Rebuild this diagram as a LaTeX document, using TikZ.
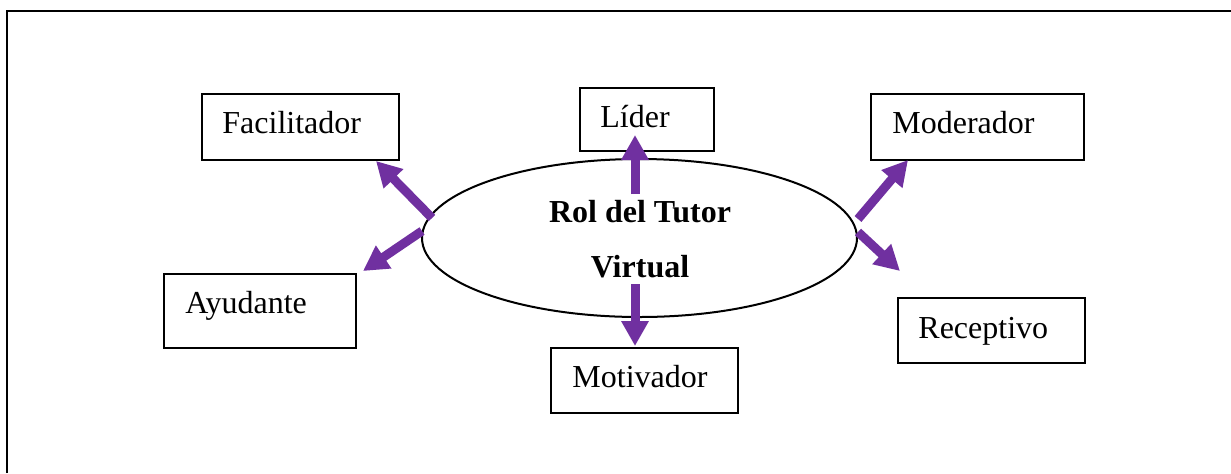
\documentclass[tikz,border=0pt]{standalone}
\usepackage{fontspec}
\setmainfont{Liberation Serif}
\usetikzlibrary{arrows.meta}
\definecolor{arrpurple}{HTML}{7030A0}
\begin{document}
\begin{tikzpicture}[x=0.5pt,y=-0.5pt,
  box/.style={draw=black, line width=1pt, fill=white, anchor=north west, inner sep=0pt},
  lbl/.style={anchor=base west, inner sep=0pt, font=\fontsize{16}{19}\selectfont},
  title/.style={anchor=base, inner sep=0pt, font=\fontsize{16}{19}\selectfont\bfseries},
  arr/.style={draw=arrpurple, line width=4.5pt, -{Triangle[length=12.5pt,width=13pt]}}]
\useasboundingbox (0,0) rectangle (1231,473);
\fill[white] (0,0) rectangle (1231,473);
% outer frame
\draw[line width=1pt] (7,473) -- (7,11) -- (1231,11);
% boxes
\node[box, minimum width=98.5pt, minimum height=33pt] (fac) at (201,93) {};
\node[lbl] (facT) at (222,133) {Facilitador};
\node[box, minimum width=67pt, minimum height=31.5pt] (lid) at (579,87) {};
\node[lbl] (lidT) at (600,127) {Líder};
\node[box, minimum width=106.5pt, minimum height=33pt] (mod) at (870,93) {};
\node[lbl] (modT) at (892,133) {Moderador};
\node[box, minimum width=96pt, minimum height=37pt] (ayu) at (163,273) {};
\node[lbl] (ayuT) at (185,313) {Ayudante};
\node[box, minimum width=93.5pt, minimum height=32.5pt] (mot) at (550,347) {};
\node[lbl] (motT) at (572,387) {Motivador};
\node[box, minimum width=93.5pt, minimum height=32.5pt] (rec) at (897,297) {};
\node[lbl] (recT) at (918,338) {Receptivo};
% ellipse
\draw[line width=1pt] (639.5,238) ellipse [x radius=217.5, y radius=79];
\coordinate (ell) at (639.5,238);
\node[title] (t1) at (640,222) {Rol del Tutor};
\node[title] (t2) at (640,277) {Virtual};
% arrow endpoints
\coordinate (sF) at (432,218); \coordinate (eF) at (376,161);
\coordinate (sA) at (422,231); \coordinate (eA) at (363,271);
\coordinate (sL) at (635,194); \coordinate (eL) at (635,135);
\coordinate (sM) at (635,284); \coordinate (eM) at (635,346);
\coordinate (sD) at (858,219); \coordinate (eD) at (908,160);
\coordinate (sR) at (858,232); \coordinate (eR) at (900,271);
\draw[arr] (sF) -- (eF);
\draw[arr] (sA) -- (eA);
\draw[arr] (sL) -- (eL);
\draw[arr] (sM) -- (eM);
\draw[arr] (sD) -- (eD);
\draw[arr] (sR) -- (eR);
\end{tikzpicture}
\end{document}
